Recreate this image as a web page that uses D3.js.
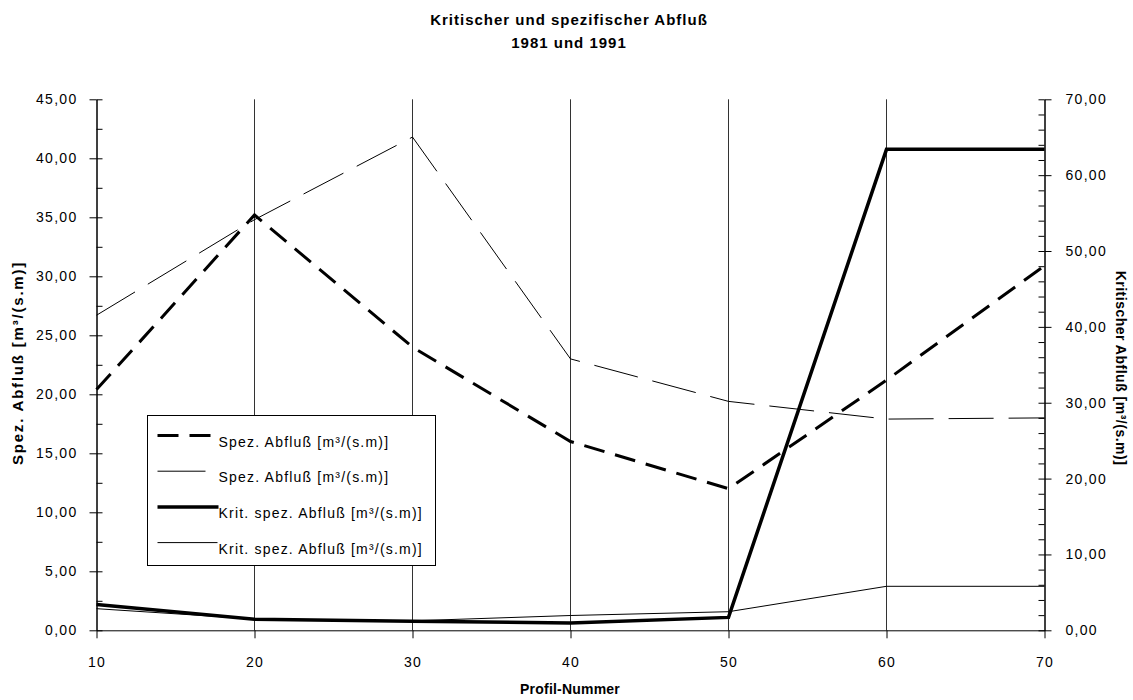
<!DOCTYPE html>
<html>
<head>
<meta charset="utf-8">
<script src="https://cdn.jsdelivr.net/npm/d3@7"></script>
<style>
  body { margin: 0; background: #fff; }
  text { font-family: Arial, "Liberation Sans", sans-serif; fill: #000; }
</style>
</head>
<body>
<div id="chart"></div>
<script>

// data
var profil = [10, 20, 30, 40, 50, 60, 70];
var spezDashed = [20.4, 35.2, 24.0, 16.0, 12.0, 21.2, 30.9];   // left axis
var spezThin   = [26.7, 34.8, 41.8, 23.0, 19.4, 17.9, 18.0];   // left axis
var kritThick  = [3.4, 1.45, 1.2, 0.95, 1.7, 63.4, 63.4];      // right axis
var kritThin   = [2.85, 1.5, 1.25, 1.95, 2.45, 5.8, 5.8];      // right axis

var xTicks = [10, 20, 30, 40, 50, 60, 70];
var leftTicks = [0, 5, 10, 15, 20, 25, 30, 35, 40, 45];
var rightTicks = [0, 10, 20, 30, 40, 50, 60, 70];

var legendLabels = [
  "Spez. Abfluß [m³/(s.m)]",
  "Spez. Abfluß [m³/(s.m)]",
  "Krit. spez. Abfluß [m³/(s.m)]",
  "Krit. spez. Abfluß [m³/(s.m)]"
];

var W = 1133, H = 700;
var plotL = 96.5, plotR = 1044.5, plotT = 99.3, plotB = 630.3;

var svg = d3.select("#chart")
  .append("svg")
    .attr("width", W)
    .attr("height", H);

var x = d3.scaleLinear().domain([10, 70]).range([plotL, plotR]);
var yL = d3.scaleLinear().domain([0, 45]).range([plotB, plotT]);
var yR = d3.scaleLinear().domain([0, 70]).range([plotB, plotT]);

var comma = function(d) { return d3.format(".2f")(d).replace(".", ","); };

// title
svg.append("text")
  .attr("x", 569).attr("y", 25)
  .attr("text-anchor", "middle")
  .style("font-size", "15px").style("font-weight", "bold").style("letter-spacing", "1px")
  .text("Kritischer und spezifischer Abfluß");
svg.append("text")
  .attr("x", 569).attr("y", 48)
  .attr("text-anchor", "middle")
  .style("font-size", "15px").style("font-weight", "bold").style("letter-spacing", "1px")
  .text("1981 und 1991");

// vertical grid lines
svg.append("g")
  .selectAll("line")
  .data(xTicks.slice(1, -1))
  .enter().append("line")
    .attr("x1", function(d) { return x(d); })
    .attr("x2", function(d) { return x(d); })
    .attr("y1", plotT)
    .attr("y2", plotB)
    .attr("stroke", "#333")
    .attr("stroke-width", 1);

// left axis (outer major ticks with labels, inner minor ticks)
var gL = svg.append("g").attr("transform", "translate(" + plotL + ",0)");
gL.call(d3.axisLeft(yL).tickValues(leftTicks).tickSize(7).tickSizeOuter(0).tickPadding(12).tickFormat(comma));
gL.append("g").call(d3.axisLeft(yL).tickValues(d3.range(0, 45.01, 2.5)).tickSize(-6).tickSizeOuter(0).tickFormat(""));

// right axis
var gR = svg.append("g").attr("transform", "translate(" + plotR + ",0)");
gR.call(d3.axisRight(yR).tickValues(rightTicks).tickSize(7).tickSizeOuter(0).tickPadding(14).tickFormat(comma));
gR.append("g").call(d3.axisRight(yR).tickValues(d3.range(0, 70.01, 2)).tickSize(-6).tickSizeOuter(0).tickFormat(""));

// bottom axis
var gB = svg.append("g").attr("transform", "translate(0," + plotB + ")");
gB.call(d3.axisBottom(x).tickValues(xTicks).tickSize(8).tickSizeOuter(0).tickPadding(19).tickFormat(d3.format("d")));

svg.selectAll(".tick text")
  .style("font-size", "14px")
  .style("letter-spacing", "1.3px")
  .style("font-family", "Arial, 'Liberation Sans', sans-serif");
svg.selectAll(".domain, .tick line").attr("stroke", "#000");

// axis titles
svg.append("text")
  .attr("transform", "translate(23," + 363 + ") rotate(-90)")
  .attr("text-anchor", "middle")
  .style("font-size", "15px").style("font-weight", "bold").style("letter-spacing", "1.8px")
  .text("Spez. Abfluß [m³/(s.m)]");
svg.append("text")
  .attr("transform", "translate(1116," + 368 + ") rotate(90)")
  .attr("text-anchor", "middle")
  .style("font-size", "14px").style("font-weight", "bold").style("letter-spacing", "0.5px")
  .text("Kritischer Abfluß [m³/(s.m)]");
svg.append("text")
  .attr("x", 570).attr("y", 694)
  .attr("text-anchor", "middle")
  .style("font-size", "14px").style("font-weight", "bold").style("letter-spacing", "0.2px")
  .text("Profil-Nummer");

// lines
var lineL = d3.line()
  .x(function(d, i) { return x(profil[i]); })
  .y(function(d) { return yL(d); });
var lineR = d3.line()
  .x(function(d, i) { return x(profil[i]); })
  .y(function(d) { return yR(d); });

var styles = [
  {w: 3, dash: "21,11"},
  {w: 1, dash: "45,15"},
  {w: 3.5, dash: null},
  {w: 1, dash: null}
];

svg.append("path").datum(spezThin)
  .attr("d", lineL).attr("fill", "none").attr("stroke", "#000")
  .attr("stroke-width", styles[1].w).attr("stroke-dasharray", styles[1].dash);
svg.append("path").datum(kritThin)
  .attr("d", lineR).attr("fill", "none").attr("stroke", "#000")
  .attr("stroke-width", styles[3].w);
svg.append("path").datum(spezDashed)
  .attr("d", lineL).attr("fill", "none").attr("stroke", "#000")
  .attr("stroke-width", styles[0].w).attr("stroke-dasharray", styles[0].dash);
svg.append("path").datum(kritThick)
  .attr("d", lineR).attr("fill", "none").attr("stroke", "#000")
  .attr("stroke-width", styles[2].w).attr("stroke-linejoin", "miter");

// legend
var lg = svg.append("g").attr("transform", "translate(147.5,415.5)");
lg.append("rect")
  .attr("width", 288).attr("height", 150)
  .attr("fill", "#fff").attr("stroke", "#000").attr("stroke-width", 1);

var rows = lg.selectAll("g.row")
  .data(legendLabels)
  .enter().append("g")
    .attr("class", "row")
    .attr("transform", function(d, i) { return "translate(0," + (20 + i * 35.7) + ")"; });

var sampleEnd = [63, 58, 71, 70];
rows.append("line")
  .attr("x1", 10)
  .attr("x2", function(d, i) { return sampleEnd[i]; })
  .attr("y1", 0).attr("y2", 0)
  .attr("stroke", "#000")
  .attr("stroke-width", function(d, i) { return styles[i].w; })
  .attr("stroke-dasharray", function(d, i) { return i === 0 ? "21,11" : null; });

rows.append("text")
  .attr("x", 71).attr("y", 11)
  .style("font-size", "14px").style("letter-spacing", "1.2px")
  .text(function(d) { return d; });

</script>
</body>
</html>
